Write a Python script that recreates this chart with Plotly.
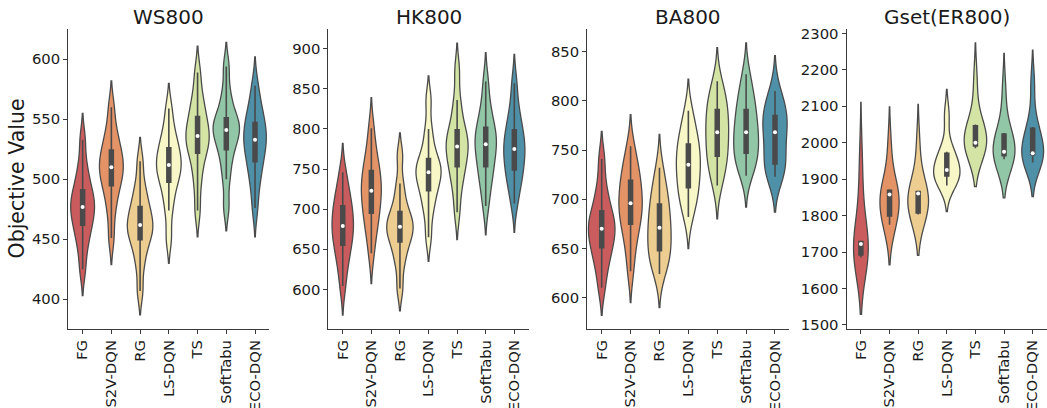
import numpy as np
import plotly.graph_objects as go

# ---------------- data ----------------
METHODS = ["FG", "S2V-DQN", "RG", "LS-DQN", "TS", "SoftTabu", "ECO-DQN"]
PANEL_TITLES = ["WS800", "HK800", "BA800", "Gset(ER800)"]

WS800 = [
    [425, 443, 453, 461, 467, 472, 477, 482, 486, 492, 501, 512, 533],
    [451, 472, 485, 494, 500, 505, 510, 515, 519, 525, 533, 542, 560],
    [407, 428, 440, 449, 454, 458, 462, 467, 472, 478, 486, 496, 515],
    [451, 474, 487, 497, 503, 507, 512, 517, 521, 527, 534, 543, 559],
    [474, 496, 510, 521, 527, 531, 536, 541, 546, 553, 561, 571, 589],
    [477, 500, 514, 524, 531, 536, 541, 544, 548, 552, 561, 573, 594],
    [476, 495, 506, 514, 522, 527, 533, 537, 542, 548, 555, 563, 578],
]
HK800 = [
    [604, 629, 643, 654, 664, 672, 679, 687, 695, 705, 714, 726, 746],
    [645, 670, 683, 694, 706, 714, 723, 731, 739, 749, 760, 775, 801],
    [601, 630, 646, 658, 666, 672, 678, 684, 690, 698, 713, 732, 767],
    [665, 694, 710, 722, 732, 739, 746, 751, 757, 764, 780, 800, 836],
    [696, 724, 740, 752, 762, 770, 778, 785, 791, 800, 816, 836, 873],
    [704, 728, 741, 752, 764, 772, 781, 788, 794, 803, 815, 831, 859],
    [707, 728, 739, 748, 759, 767, 775, 782, 790, 800, 812, 828, 857],
]
BA800 = [
    [610, 630, 641, 650, 658, 664, 670, 676, 681, 689, 700, 715, 741],
    [627, 650, 664, 674, 683, 689, 696, 703, 710, 720, 727, 737, 754],
    [624, 636, 642, 647, 657, 664, 671, 678, 686, 696, 704, 714, 732],
    [682, 696, 705, 711, 721, 728, 735, 742, 748, 757, 764, 774, 790],
    [714, 728, 737, 743, 753, 760, 768, 775, 782, 792, 798, 806, 820],
    [724, 735, 741, 746, 755, 761, 768, 775, 782, 792, 800, 810, 827],
    [723, 729, 732, 735, 748, 758, 768, 773, 779, 786, 791, 798, 810],
]
GSET800 = [
    [1685, 1688, 1690, 1710, 1722, 1727, 1731, 1850, 1955],
    [1775, 1785, 1797, 1830, 1858, 1863, 1872, 1872, 1988],
    [1803, 1804, 1805, 1835, 1861, 1864, 1868, 1868, 1993],
    [1883, 1900, 1907, 1915, 1925, 1945, 1973, 1975, 2074],
    [1985, 1987, 1989, 1995, 2000, 2020, 2049, 2050, 2169],
    [1955, 1958, 1962, 1968, 1975, 1995, 2026, 2027, 2139],
    [1946, 1955, 1965, 1968, 1971, 2000, 2042, 2043, 2160],
]

# KDE bandwidths (per violin)
BW_WS = [11, 11, 10, 10.5, 11, 10, 12]
BW_HK = [18, 19, 14, 15, 17, 18, 18]
BW_BA = [14, 16, 17, 16, 17, 16, 18]
BW_GSET = [78, 55, 56, 36, 52.5, 53, 47]

YTICKS_WS = [400, 450, 500, 550, 600]
YTICKS_HK = [600, 650, 700, 750, 800, 850, 900]
YTICKS_BA = [600, 650, 700, 750, 800, 850]
YTICKS_GSET = [1500, 1600, 1700, 1800, 1900, 2000, 2100, 2200, 2300]

# ---------------- style ----------------
COLORS = ["#cb5c5e", "#e49367", "#eece90", "#f7f7c7", "#d3e4a5", "#91c7a6", "#4e90a8"]
GRAY = "#4a4a4a"
AXIS_COLOR = "#3a3a3a"
TEXT_COLOR = "#1a1a1a"
FONT = "DejaVu Sans"
W, H = 1047, 408
X_DOMAINS = [[0.0652, 0.2573], [0.3137, 0.5049], [0.5609, 0.7540], [0.8086, 1.0]]
Y_DOMAIN = [0.1936, 0.9289]
Y_RANGES = [[375.25, 625.25], [550.5, 924.6], [568.2, 873.0], [1489, 2312]]
WMAX = 0.92
TICK_SIZE = 14.8

panels = [
    (WS800, BW_WS, YTICKS_WS),
    (HK800, BW_HK, YTICKS_HK),
    (BA800, BW_BA, YTICKS_BA),
    (GSET800, BW_GSET, YTICKS_GSET),
]


def kde_peak(vals, bw):
    v = np.asarray(vals, float)
    grid = np.linspace(v.min() - 2 * bw, v.max() + 2 * bw, 600)
    dens = np.exp(-0.5 * ((grid[:, None] - v[None, :]) / bw) ** 2).sum(1)
    dens /= len(v) * bw * np.sqrt(2 * np.pi)
    return dens.max()


fig = go.Figure()
layout = {}
annotations = []

for k, (data, bws, yticks) in enumerate(panels):
    xa = "x" if k == 0 else f"x{k+1}"
    ya = "y" if k == 0 else f"y{k+1}"
    peaks = [kde_peak(v, b) for v, b in zip(data, bws)]
    pmax = max(peaks)
    for i, (vals, bw) in enumerate(zip(data, bws)):
        cat = METHODS[i]
        fig.add_trace(go.Violin(
            x=[cat] * len(vals), y=vals, xaxis=xa, yaxis=ya,
            bandwidth=bw, spanmode="soft", scalemode="width",
            width=WMAX * peaks[i] / pmax, side="both",
            fillcolor=COLORS[i], opacity=1,
            line=dict(color=GRAY, width=1.3),
            points=False, box_visible=False, meanline_visible=False,
            showlegend=False, hoverinfo="skip",
        ))
        arr = np.asarray(vals, float)
        q1, med, q3 = np.percentile(arr, [25, 50, 75])
        lim = 1.5 * (q3 - q1)
        h1 = arr[arr >= q1 - lim].min()
        h2 = arr[arr <= q3 + lim].max()
        fig.add_trace(go.Scatter(
            x=[cat, cat], y=[h1, h2], mode="lines", xaxis=xa, yaxis=ya,
            line=dict(color=GRAY, width=1.6), showlegend=False, hoverinfo="skip"))
        fig.add_trace(go.Scatter(
            x=[cat, cat], y=[q1, q3], mode="lines", xaxis=xa, yaxis=ya,
            line=dict(color=GRAY, width=5.5), showlegend=False, hoverinfo="skip"))
        fig.add_trace(go.Scatter(
            x=[cat], y=[med], mode="markers", xaxis=xa, yaxis=ya,
            marker=dict(color="white", size=4, line=dict(width=0)),
            showlegend=False, hoverinfo="skip"))

    xkey = "xaxis" if k == 0 else f"xaxis{k+1}"
    ykey = "yaxis" if k == 0 else f"yaxis{k+1}"
    layout[xkey] = dict(
        domain=X_DOMAINS[k], anchor=ya, type="category",
        categoryorder="array", categoryarray=METHODS, range=[-0.5, 6.5],
        showline=True, linecolor=AXIS_COLOR, linewidth=1.2,
        ticks="outside", ticklen=4, tickwidth=1.2, tickcolor=AXIS_COLOR,
        tickangle=-90, showgrid=False, zeroline=False, automargin=False,
        tickfont=dict(family=FONT, size=TICK_SIZE, color=TEXT_COLOR),
    )
    layout[ykey] = dict(
        domain=Y_DOMAIN, anchor=xa, range=Y_RANGES[k],
        tickvals=yticks, ticktext=[str(t) for t in yticks],
        showline=True, linecolor=AXIS_COLOR, linewidth=1.2,
        ticks="outside", ticklen=4, tickwidth=1.2, tickcolor=AXIS_COLOR,
        showgrid=False, zeroline=False, automargin=False,
        tickfont=dict(family=FONT, size=TICK_SIZE, color=TEXT_COLOR),
    )
    annotations.append(dict(
        text=PANEL_TITLES[k], xref="paper", yref="paper",
        x=sum(X_DOMAINS[k]) / 2, y=1 - 17.5 / H, xanchor="center", yanchor="middle",
        showarrow=False, font=dict(family=FONT, size=20, color=TEXT_COLOR)))

annotations.append(dict(
    text="Objective Value", xref="paper", yref="paper",
    x=17.5 / W, y=(Y_DOMAIN[0] + Y_DOMAIN[1]) / 2, xanchor="center", yanchor="middle",
    textangle=-90, showarrow=False, font=dict(family=FONT, size=20.5, color=TEXT_COLOR)))

fig.update_layout(
    width=W, height=H, margin=dict(l=0, r=0, t=0, b=0, autoexpand=False),
    paper_bgcolor="white", plot_bgcolor="white",
    violinmode="overlay", showlegend=False,
    annotations=annotations, **layout,
)

fig.write_html(
    "out.html",
    config={"displayModeBar": False},
    post_script="document.body.style.margin='0';document.body.style.overflow='hidden';",
)
